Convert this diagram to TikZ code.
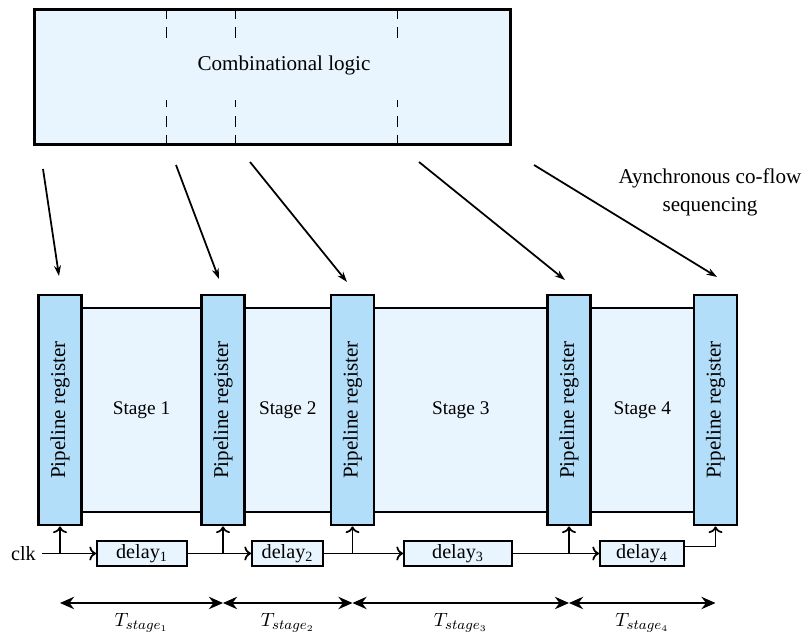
\documentclass[tikz,border=0pt]{standalone}
\usepackage{fontspec}
\setmainfont{Liberation Serif}
\usepackage{amsmath}
\usepackage{graphicx}
\usetikzlibrary{arrows.meta,calc}
\definecolor{paleblue}{RGB}{232,245,254}
\definecolor{regblue}{RGB}{178,222,250}

\begin{document}
\begin{tikzpicture}[font=\fontsize{12}{16}\selectfont]
\tikzstyle{reg}=[draw,line width=1.6pt,fill=regblue,minimum width=0.86cm,minimum height=4.6cm,inner sep=0pt];
\tikzstyle{stage}=[draw,line width=1.6pt,fill=paleblue,minimum height=4.08cm,font=\fontsize{11}{13}\selectfont];
\tikzstyle{delay}=[draw,line width=1.1pt,fill=paleblue,minimum height=0.5cm,inner sep=1pt,font=\fontsize{11.5}{13}\selectfont];
\tikzstyle{sig}=[->,line width=1pt];
\tikzstyle{flow}=[-{Stealth[length=6pt,width=4pt]},line width=1pt];
\tikzstyle{period}=[{Stealth[length=8pt,width=7pt]}-{Stealth[length=8pt,width=7pt]},line width=1.6pt];
\tikzstyle{tlabel}=[midway,yshift=-0.4cm,font=\fontsize{11}{13}\selectfont];
\useasboundingbox (0,0) rectangle (16.14,12.74);

% combinational logic block
\node (cl) [draw,line width=1.6pt,fill=paleblue,minimum width=9.52cm,minimum height=2.7cm] at (5.45,11.2) {};
\node (cltext) at (5.68,11.44) {Combinational logic};
\foreach \x in {3.32,4.70,7.94} {
  \draw [dash pattern=on 6pt off 5pt,line width=0.5pt] (\x,0 |- cl.north) -- (\x,11.94);
  \draw [dash pattern=on 6pt off 5pt,line width=0.5pt] (\x,0 |- cl.south) -- (\x,10.74);
}

% stages first, registers on top
\node (s1) [stage,minimum width=3.26cm] at (2.83,4.54) {Stage 1};
\node (s2) [stage,minimum width=2.59cm] at (5.755,4.54) {Stage 2};
\node (s3) [stage,minimum width=4.33cm] at (9.215,4.54) {Stage 3};
\node (s4) [stage,minimum width=2.93cm] at (12.845,4.54) {Stage 4};

\node (r1) [reg] at (1.20,4.54) {\rotatebox{90}{Pipeline register}};
\node (r2) [reg] at (4.46,4.54) {\rotatebox{90}{Pipeline register}};
\node (r3) [reg] at (7.05,4.54) {\rotatebox{90}{Pipeline register}};
\node (r4) [reg] at (11.38,4.54) {\rotatebox{90}{Pipeline register}};
\node (r5) [reg] at (14.31,4.54) {\rotatebox{90}{Pipeline register}};

% clock chain
\node (clk) [left,font=\fontsize{11.5}{13}\selectfont] at (0.84,1.67) {clk};
\node (d1) [delay,minimum width=1.8cm] at (2.84,1.67) {delay\textsubscript{1}};
\node (d2) [delay,minimum width=1.42cm] at (5.75,1.67) {delay\textsubscript{2}};
\node (d3) [delay,minimum width=2.16cm] at (9.16,1.67) {delay\textsubscript{3}};
\node (d4) [delay,minimum width=1.68cm] at (12.84,1.67) {delay\textsubscript{4}};

\draw [sig] (clk.east) -- (d1.west);
\draw [sig] (clk.east -| r1) -- (r1.south);
\draw [sig] (d1.east) -- (d2.west);
\draw [sig] (d1.east -| r2) -- (r2.south);
\draw [sig] (d2.east) -- (d3.west);
\draw [sig] (d2.east -| r3) -- (r3.south);
\draw [sig] (d3.east) -- (d4.west);
\draw [sig] (d3.east -| r4) -- (r4.south);
\draw [sig] ($(d4.east)+(0,0.14)$) -| (r5.south);

% sequencing arrows
\coordinate (f1) at (0.86,9.36);  \coordinate (g1) at (1.18,7.22);
\coordinate (f2) at (3.52,9.44);  \coordinate (g2) at (4.38,7.16);
\coordinate (f3) at (5.00,9.50);  \coordinate (g3) at (6.94,7.10);
\coordinate (f4) at (8.38,9.50);  \coordinate (g4) at (11.30,7.14);
\coordinate (f5) at (10.68,9.44); \coordinate (g5) at (14.34,7.20);
\draw [flow] (f1) -- (g1);
\draw [flow] (f2) -- (g2);
\draw [flow] (f3) -- (g3);
\draw [flow] (f4) -- (g4);
\draw [flow] (f5) -- (g5);
\node (note) [align=center] at (14.2,8.9) {Aynchronous co-flow\\sequencing};

% stage periods
\coordinate (tl) at (0,0.68);
\draw [period] (r1 |- tl) -- (r2 |- tl) node (t1) [tlabel] {$T_{stage_1}$};
\draw [period] (r2 |- tl) -- (r3 |- tl) node (t2) [tlabel] {$T_{stage_2}$};
\draw [period] (r3 |- tl) -- (r4 |- tl) node (t3) [tlabel] {$T_{stage_3}$};
\draw [period] (r4 |- tl) -- (r5 |- tl) node (t4) [tlabel] {$T_{stage_4}$};
\end{tikzpicture}
\end{document}
